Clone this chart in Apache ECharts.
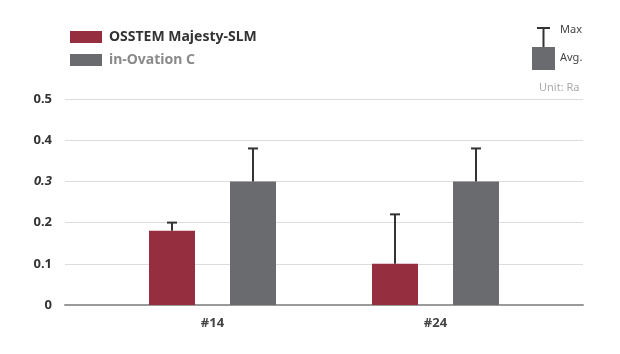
<!DOCTYPE html>
<html>
<head>
<meta charset="utf-8">
<script src="https://cdn.jsdelivr.net/npm/echarts@6/dist/echarts.min.js"></script>
<style>
  html, body { margin: 0; padding: 0; background: #fff; }
  #chart { width: 620px; height: 354px; }
</style>
</head>
<body>
<div id="chart"></div>
<script>
var categories = ['#14', '#24'];
var seriesNames = ['OSSTEM Majesty-SLM', 'in-Ovation C'];
var avgSLM = [0.18, 0.10];
var maxSLM = [0.20, 0.22];
var avgInOvation = [0.30, 0.30];
var maxInOvation = [0.38, 0.38];
var yTicks = [0, 0.1, 0.2, 0.3, 0.4, 0.5];

var colors = ['#952f3f', '#6a6b6f'];
var barWidth = 46;
var barGapPx = 35;
var offset = (barWidth + barGapPx) / 2;

var chart = echarts.init(document.getElementById('chart'));

// error bar from the average up to the max
function errorSeries(name, avg, max, dx) {
  var data = categories.map(function (c, i) { return [i, avg[i], max[i]]; });
  return {
    name: name + ' max',
    type: 'custom',
    xAxisIndex: 1,
    yAxisIndex: 1,
    z: 5,
    silent: true,
    data: data,
    renderItem: function (params, api) {
      var p0 = api.coord([api.value(0), api.value(1)]);
      var p1 = api.coord([api.value(0), api.value(2)]);
      var cx = p0[0] + dx;
      var style = { stroke: '#333', lineWidth: 2 };
      return {
        type: 'group',
        children: [
          { type: 'line', shape: { x1: cx, y1: p0[1], x2: cx, y2: p1[1] }, style: style },
          { type: 'line', shape: { x1: cx - 5, y1: p1[1], x2: cx + 5, y2: p1[1] }, style: style }
        ]
      };
    }
  };
}

var option = {
  animation: false,
  textStyle: { fontFamily: 'Noto Sans' },
  legend: {
    orient: 'vertical',
    left: 65,
    top: 25,
    itemWidth: 32,
    itemHeight: 12,
    itemGap: 9,
    icon: 'rect',
    data: [
      { name: seriesNames[0], textStyle: { color: '#333' } },
      { name: seriesNames[1], textStyle: { color: '#8a8a8a' } }
    ],
    textStyle: { fontSize: 14, fontWeight: 'bold', fontFamily: 'Noto Sans', padding: [0, 0, 0, 2] }
  },
  grid: [
    { left: 65, right: 37, top: 99, bottom: 49 },
    { left: 101, right: 73, top: 99, bottom: 49 }
  ],
  xAxis: [
    {
      type: 'category', gridIndex: 0, data: categories,
      axisLine: { show: true, lineStyle: { color: '#9a9a9a', width: 2 } },
      axisTick: { show: false }, axisLabel: { show: false }
    },
    {
      type: 'category', gridIndex: 1, data: categories,
      axisLine: { show: false }, axisTick: { show: false },
      axisLabel: { margin: 12, fontSize: 13, fontWeight: 'bold', color: '#444', fontFamily: 'Noto Sans' }
    }
  ],
  yAxis: [
    {
      type: 'value', gridIndex: 0, min: 0, max: 0.5, interval: 0.1,
      axisLine: { show: false }, axisTick: { show: false },
      splitLine: { lineStyle: { color: '#dcdcdc', width: 1 } },
      axisLabel: {
        margin: 13, fontSize: 13, fontWeight: 'bold', color: '#333', fontFamily: 'Noto Sans',
        formatter: function (v) {
          var s = yTicks.indexOf(Math.round(v * 10) / 10) >= 0 ? String(Math.round(v * 10) / 10) : '';
          return s === '0.3' ? '{it|' + s + '}' : s;
        },
        rich: { it: { fontStyle: 'italic', fontSize: 13, fontWeight: 'bold', color: '#333', fontFamily: 'Noto Sans' } }
      }
    },
    {
      type: 'value', gridIndex: 1, min: 0, max: 0.5, interval: 0.1,
      show: false, splitLine: { show: false }
    }
  ],
  graphic: [
    { type: 'rect', shape: { x: 532, y: 47, width: 23, height: 23 }, style: { fill: '#6a6b6f' } },
    { type: 'line', shape: { x1: 543.5, y1: 28, x2: 543.5, y2: 47 }, style: { stroke: '#333', lineWidth: 2 } },
    { type: 'line', shape: { x1: 537, y1: 28, x2: 550, y2: 28 }, style: { stroke: '#333', lineWidth: 2 } },
    { type: 'text', left: 560, top: 24, style: { text: 'Max', fontSize: 11, fill: '#444', fontFamily: 'Noto Sans' } },
    { type: 'text', left: 560, top: 52, style: { text: 'Avg.', fontSize: 11, fill: '#444', fontFamily: 'Noto Sans' } },
    { type: 'text', left: 539, top: 82, style: { text: 'Unit: Ra', fontSize: 11, fill: '#aaa', fontFamily: 'Noto Sans' } }
  ],
  series: [
    {
      name: seriesNames[0], type: 'bar', xAxisIndex: 1, yAxisIndex: 1,
      barWidth: barWidth, barGap: (barGapPx / barWidth * 100) + '%',
      itemStyle: { color: colors[0] }, data: avgSLM
    },
    {
      name: seriesNames[1], type: 'bar', xAxisIndex: 1, yAxisIndex: 1,
      barWidth: barWidth,
      itemStyle: { color: colors[1] }, data: avgInOvation
    },
    errorSeries(seriesNames[0], avgSLM, maxSLM, -offset),
    errorSeries(seriesNames[1], avgInOvation, maxInOvation, offset)
  ]
};

chart.setOption(option);
</script>
</body>
</html>
